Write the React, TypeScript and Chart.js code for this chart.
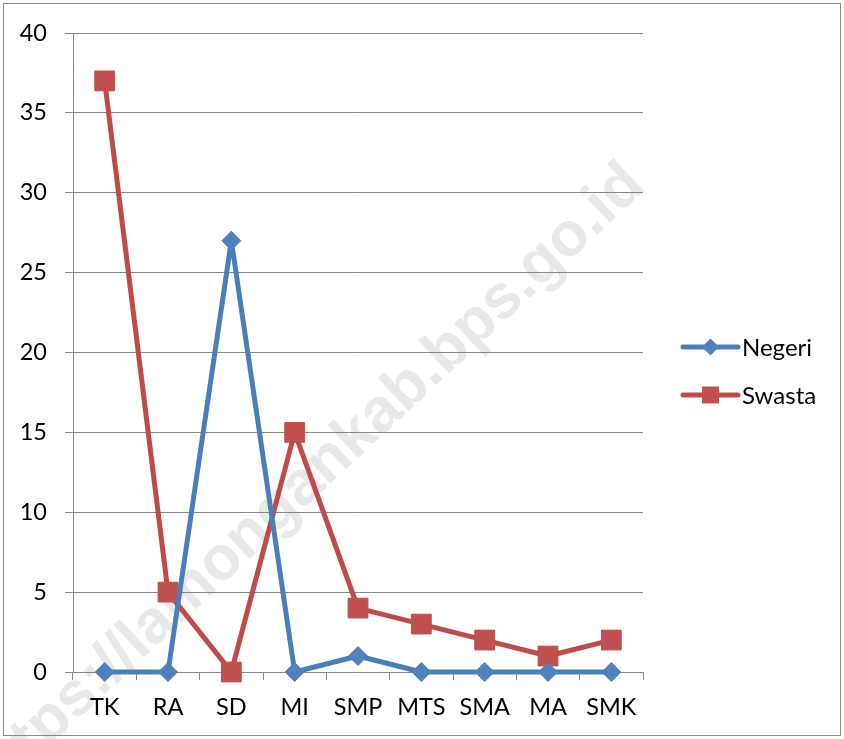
import React, { useEffect, useRef } from "react";
import { Chart, registerables } from "chart.js";

Chart.register(...registerables);

const categories = ["TK", "RA", "SD", "MI", "SMP", "MTS", "SMA", "MA", "SMK"];
const negeri = [0, 0, 27, 0, 1, 0, 0, 0, 0];
const swasta = [37, 5, 0, 15, 4, 3, 2, 1, 2];
const seriesNames = ["Negeri", "Swasta"];
const yTicksMax = 40;
const yTicksStep = 5;
const watermarkText = "https://lamongankab.bps.go.id";

const BLUE = "#4F81BD";
const BLUE_LINE = "#4A7EBB";
const RED = "#C0504D";
const RED_LINE = "#BE4B48";
const GRID = "#868686";
const FONT = "Lato, 'Noto Sans', sans-serif";

const bgPlugin = {
  id: "bgPlugin",
  beforeDraw(chart: any) {
    const ctx = chart.ctx;
    ctx.save();
    ctx.fillStyle = "#ffffff";
    ctx.fillRect(0, 0, chart.width, chart.height);
    // watermark
    ctx.translate(336, 455);
    ctx.rotate((-43 * Math.PI) / 180);
    ctx.fillStyle = "rgba(200,200,200,0.42)";
    ctx.font = "bold 62px 'Liberation Sans', Arial, sans-serif";
    ctx.textAlign = "center";
    ctx.textBaseline = "middle";
    ctx.fillText(watermarkText, -40, 0);
    ctx.restore();
    // border
    ctx.save();
    ctx.strokeStyle = "#8a8a8a";
    ctx.lineWidth = 1;
    ctx.strokeRect(3.5, 3.5, 837, 732);
    ctx.restore();
  },
};

const legendPlugin = {
  id: "customLegend",
  afterDraw(chart: any) {
    const ctx = chart.ctx;
    const x0 = 683;
    const x1 = 738;
    const items = [
      { name: seriesNames[0], color: BLUE, line: BLUE_LINE, y: 347, style: "diamond" },
      { name: seriesNames[1], color: RED, line: RED_LINE, y: 395, style: "square" },
    ];
    items.forEach((it) => {
      ctx.save();
      ctx.strokeStyle = it.line;
      ctx.lineWidth = 5;
      ctx.lineCap = "round";
      ctx.beginPath();
      ctx.moveTo(x0, it.y);
      ctx.lineTo(x1, it.y);
      ctx.stroke();
      const cx = (x0 + x1) / 2;
      ctx.fillStyle = it.color;
      ctx.beginPath();
      if (it.style === "diamond") {
        const r = 8.5;
        ctx.moveTo(cx, it.y - r);
        ctx.lineTo(cx + r, it.y);
        ctx.lineTo(cx, it.y + r);
        ctx.lineTo(cx - r, it.y);
        ctx.closePath();
      } else {
        const h = 8.5;
        ctx.rect(cx - h, it.y - h, 2 * h, 2 * h);
      }
      ctx.fill();
      ctx.fillStyle = "#000";
      ctx.font = `24px ${FONT}`;
      ctx.textAlign = "left";
      ctx.textBaseline = "middle";
      ctx.fillText(it.name, 742, it.y + 1);
      ctx.restore();
    });
  },
};

export default function App() {
  const ref = useRef<HTMLCanvasElement | null>(null);
  useEffect(() => {
    document.body.style.margin = "0";
    const canvas = ref.current;
    if (!canvas) return;
    const chart = new Chart(canvas, {
      type: "line",
      data: {
        labels: categories,
        datasets: [
          {
            label: seriesNames[0],
            data: negeri,
            borderColor: BLUE_LINE,
            backgroundColor: BLUE,
            borderWidth: 5,
            borderJoinStyle: "round",
            borderCapStyle: "round",
            pointStyle: "rectRot",
            pointRadius: 9.5,
            pointHoverRadius: 9.5,
            pointBackgroundColor: BLUE,
            pointBorderColor: BLUE,
            pointBorderWidth: 1,
            tension: 0,
            clip: false,
          },
          {
            label: seriesNames[1],
            data: swasta,
            borderColor: RED_LINE,
            backgroundColor: RED,
            borderWidth: 5,
            borderJoinStyle: "round",
            borderCapStyle: "round",
            pointStyle: "rect",
            pointRadius: 14,
            pointHoverRadius: 14,
            pointBackgroundColor: RED,
            pointBorderColor: RED,
            pointBorderWidth: 1,
            tension: 0,
            clip: false,
          },
        ],
      },
      options: {
        responsive: false,
        animation: false,
        layout: { padding: { top: 33, right: 201, left: 0, bottom: 0 } },
        plugins: {
          legend: { display: false },
          tooltip: { enabled: false },
          title: { display: false },
        },
        scales: {
          x: {
            type: "category",
            offset: true,
            grid: {
              display: true,
              drawOnChartArea: false,
              drawTicks: true,
              tickLength: 8,
              offset: true,
              color: GRID,
              lineWidth: 1,
            },
            border: { display: true, color: GRID, width: 1 },
            ticks: {
              color: "#000",
              font: { family: FONT, size: 23.5 },
              padding: 13,
              maxRotation: 0,
              autoSkip: false,
            },
            afterFit(scale: any) {
              scale.height = 67;
            },
          },
          y: {
            min: 0,
            max: yTicksMax,
            grid: {
              color: GRID,
              lineWidth: 1,
              tickLength: 8,
              drawTicks: true,
            },
            border: { display: true, color: GRID, width: 1 },
            ticks: {
              stepSize: yTicksStep,
              color: "#000",
              font: { family: FONT, size: 23.5 },
              padding: 18,
            },
            afterFit(scale: any) {
              scale.width = 73;
            },
          },
        },
      },
      plugins: [bgPlugin, legendPlugin],
    } as any);
    return () => chart.destroy();
  }, []);
  return (
    <div style={{ width: 844, height: 739 }}>
      <canvas ref={ref} width={844} height={739} style={{ display: "block" }} />
    </div>
  );
}
